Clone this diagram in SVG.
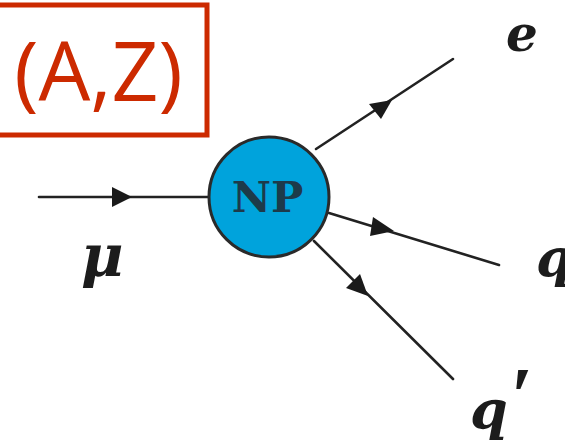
<svg xmlns="http://www.w3.org/2000/svg" width="565" height="445" viewBox="0 0 565 445">
<style>
.l{stroke:#222;stroke-width:2.6;fill:none;stroke-linecap:round}
.h{fill:#1a1a1a;stroke:none}
.m{font-family:"DejaVu Serif","Liberation Serif",serif;font-style:italic;font-weight:bold;fill:#1c1c1c}
</style>
<rect width="565" height="445" fill="#fff"/>
<g id="box"><rect x="-6" y="5" width="213" height="130" fill="none" stroke="#cc2a00" stroke-width="5"/>
<text x="98.500" y="101" text-anchor="middle" font-family="'Open Sans','Noto Sans',sans-serif" font-size="82" fill="#cc2a00">(A,Z)</text></g>
<g id="connectors">
<line class="l" x1="39" y1="197" x2="210" y2="197"/>
<polygon class="h" points="112,187 112,207 132,197"/>
<line class="l" x1="316" y1="149" x2="453" y2="59"/>
<polygon class="h" points="369,104 381,119 392,100"/>
<line class="l" x1="329" y1="213" x2="499" y2="265"/>
<polygon class="h" points="373,217 370,236 394,231"/>
<line class="l" x1="314" y1="241" x2="453" y2="379"/>
<polygon class="h" points="346,288 360,274 368,296"/>
</g>
<g id="np"><circle cx="269" cy="197" r="60" fill="#00a3dc" stroke="#2a2a2a" stroke-width="3"/>
<text x="267.500" y="212" text-anchor="middle" font-family="'DejaVu Serif',serif" font-weight="bold" font-size="43" fill="#1d3a4a">NP</text></g>
<g id="labels">
<text class="m" x="506" y="51" font-size="50">e</text>
<text class="m" x="81" y="276" font-size="58">μ</text>
<text class="m" x="536" y="276" font-size="52">q</text>
<text class="m" x="470" y="429" font-size="54">q<tspan font-family="'Liberation Serif',serif" font-size="80" dx="2" dy="-6">′</tspan></text>
</g>
</svg>
